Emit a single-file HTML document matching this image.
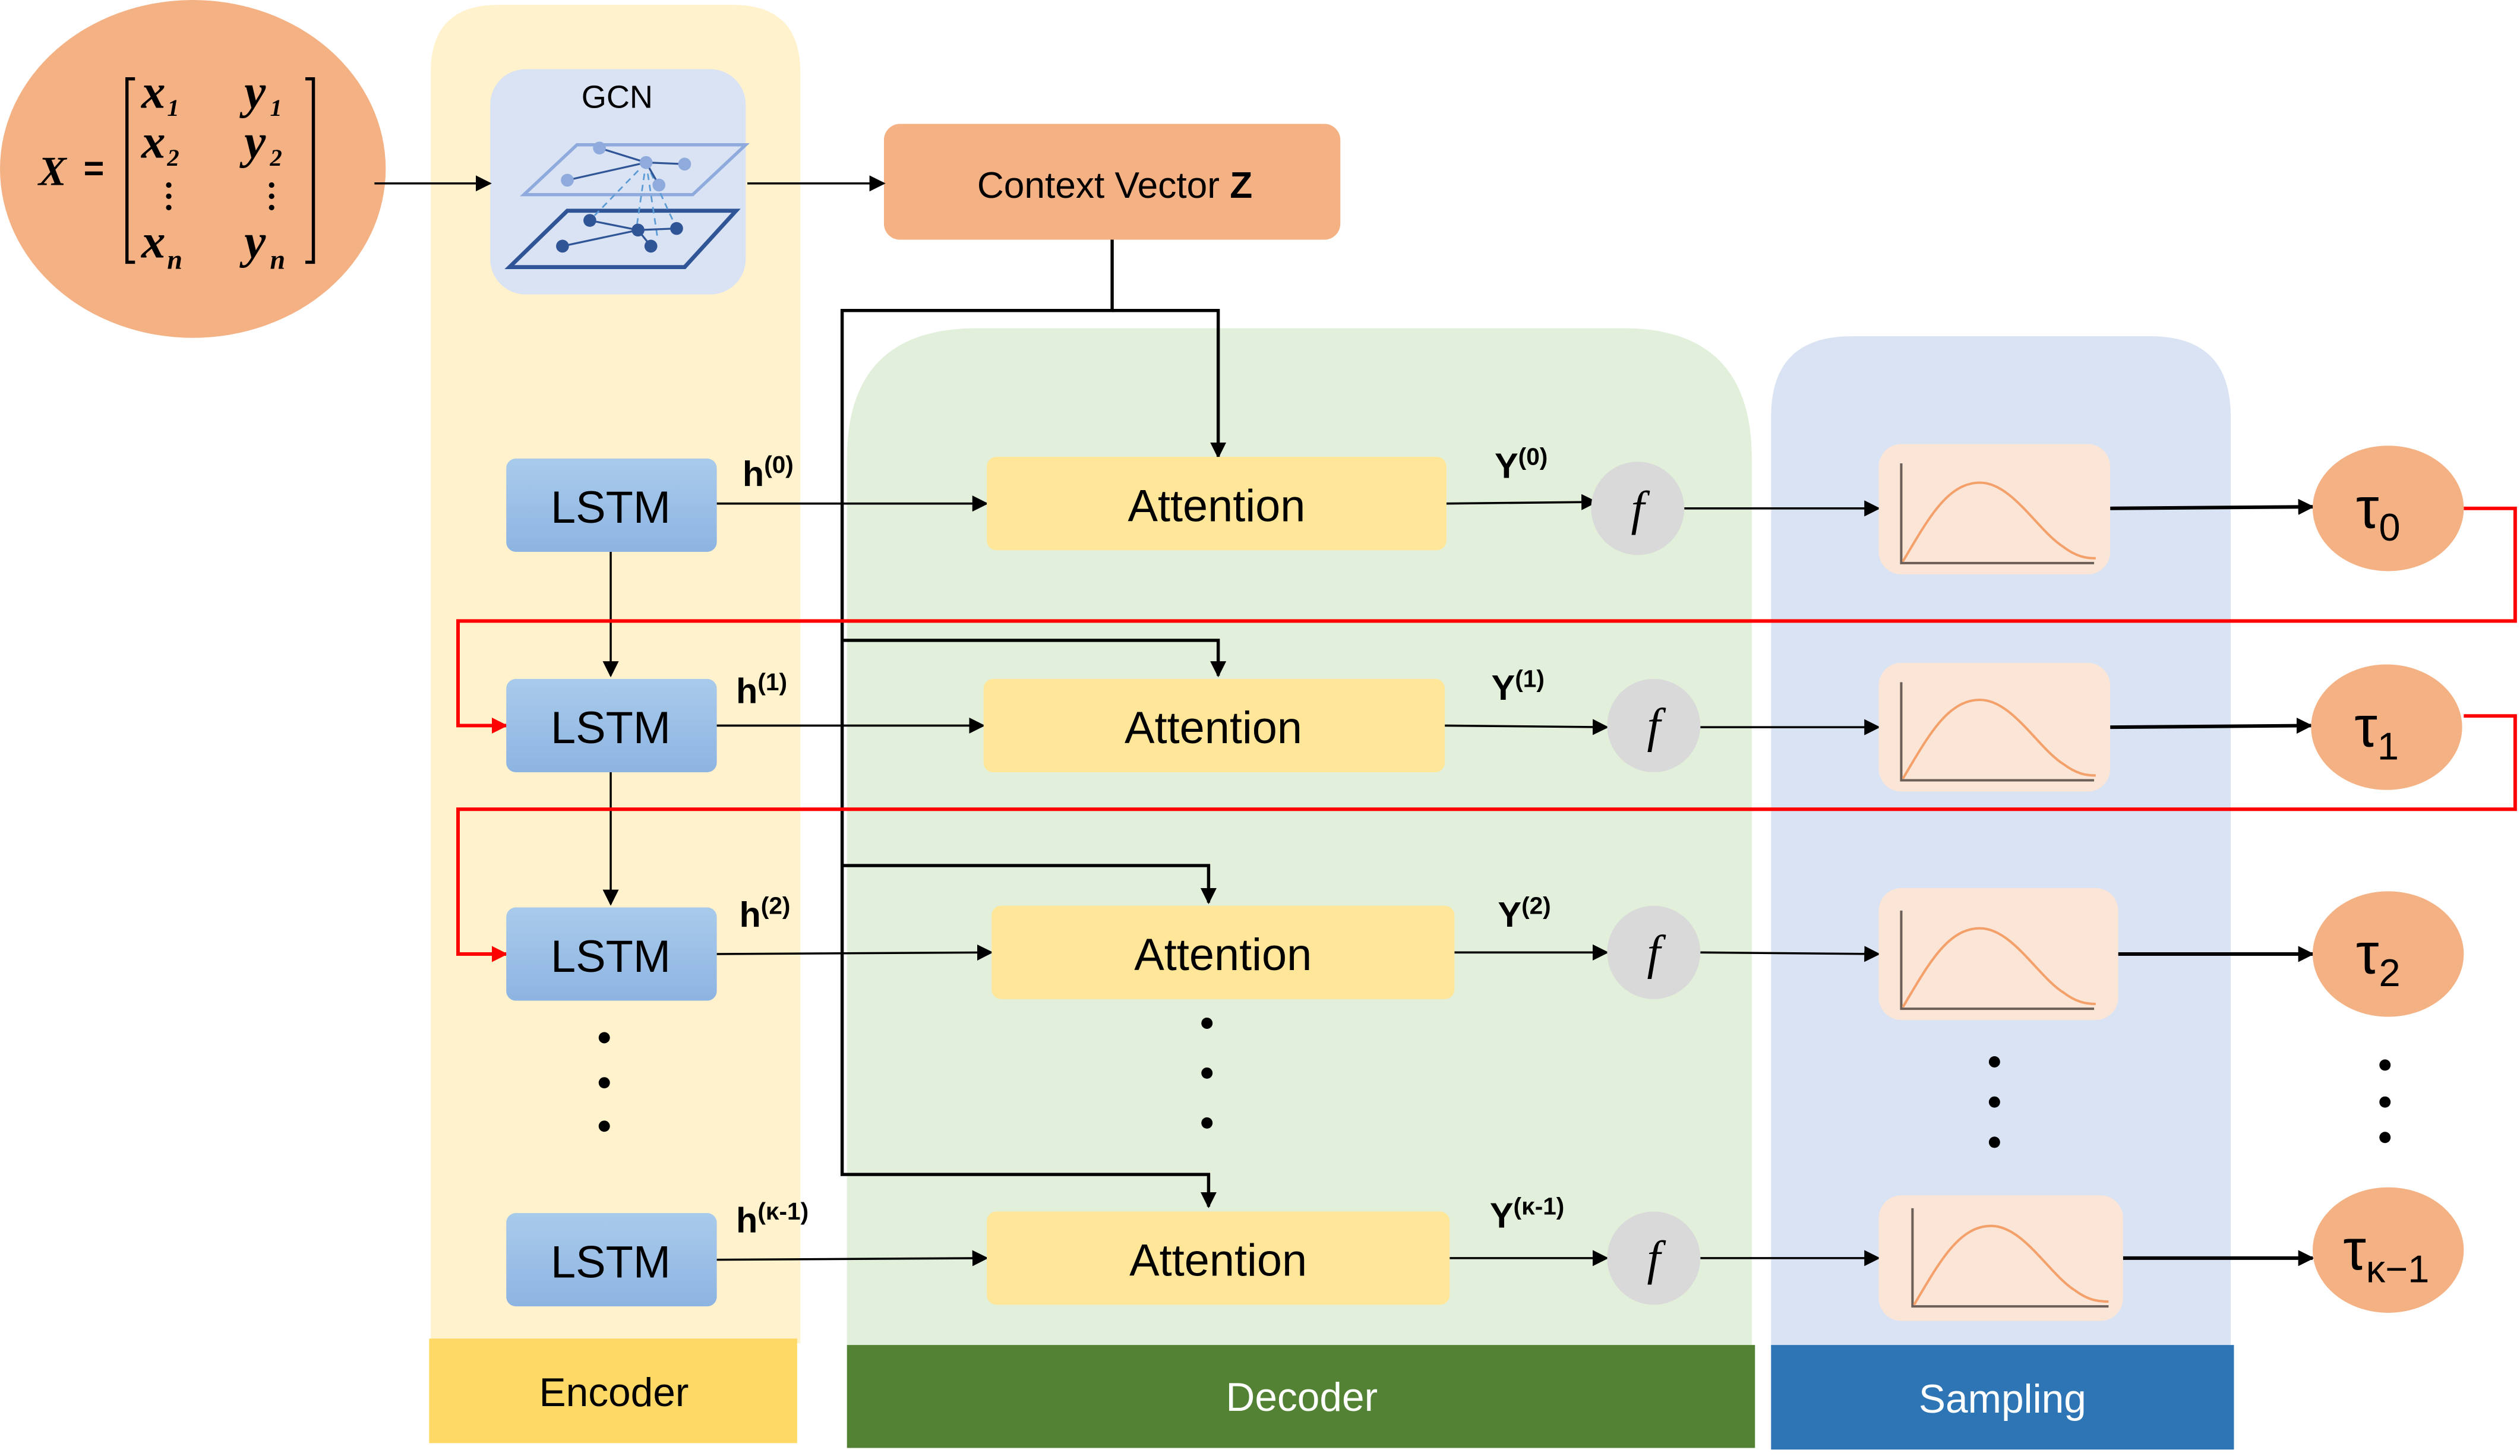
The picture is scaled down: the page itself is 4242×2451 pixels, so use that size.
<!DOCTYPE html>
<html><head><meta charset="utf-8"><style>html,body{margin:0;padding:0;background:#fff}svg{display:block}</style></head><body>
<svg width="4242" height="2451" viewBox="0 0 1568 905" preserveAspectRatio="none" xmlns="http://www.w3.org/2000/svg" font-family="Liberation Sans, DejaVu Sans, sans-serif">
<defs>
<marker id="a" markerWidth="10" markerHeight="10" refX="9" refY="5" orient="auto" markerUnits="userSpaceOnUse"><path d="M0,0 L10,5 L0,10 z" fill="#000"/></marker>
<marker id="r" markerWidth="10" markerHeight="10" refX="9" refY="5" orient="auto" markerUnits="userSpaceOnUse"><path d="M0,0 L10,5 L0,10 z" fill="#f00"/></marker>
<linearGradient id="lg" x1="0" y1="0" x2="0" y2="1"><stop offset="0" stop-color="#A9CBEB"/><stop offset="1" stop-color="#8DB4E2"/></linearGradient>
</defs>
<path d="M268,835 V45 Q268,3 310,3 H456 Q498,3 498,45 V835 Z" fill="#FFF2CC"/>
<rect x="267" y="832" width="229" height="65" fill="#FFD966"/>
<text x="382" y="874" font-size="25" text-anchor="middle">Encoder</text>
<path d="M527,840 V285 Q527,204 608,204 H1010 Q1090,204 1090,285 V840 Z" fill="#E2EFDA"/>
<rect x="527" y="836" width="565" height="64" fill="#548235"/>
<text x="810" y="877" font-size="25" text-anchor="middle" fill="#fff">Decoder</text>
<path d="M1102,840 V259 Q1102,209 1152,209 H1338 Q1388,209 1388,259 V840 Z" fill="#DAE3F3"/>
<rect x="1102" y="836" width="288" height="65" fill="#2E75B6"/>
<text x="1246" y="878" font-size="25" text-anchor="middle" fill="#fff">Sampling</text>
<ellipse cx="120" cy="105" rx="120" ry="105" fill="#F4B183"/>
<g font-family="Liberation Serif, serif" font-style="italic" font-weight="bold">
<text x="24" y="115" font-size="26">X</text>
<text x="88" y="67" font-size="30">x</text><text x="104" y="72" font-size="15">1</text>
<text x="152" y="67" font-size="30">y</text><text x="168" y="72" font-size="15">1</text>
<text x="88" y="98" font-size="30">x</text><text x="104" y="103" font-size="15">2</text>
<text x="152" y="98" font-size="30">y</text><text x="168" y="103" font-size="15">2</text>
<text x="88" y="160" font-size="30">x</text><text x="104" y="167" font-size="17">n</text>
<text x="152" y="160" font-size="30">y</text><text x="168" y="167" font-size="17">n</text>
</g>
<text x="52" y="112" font-size="22" font-weight="bold">=</text>
<path d="M84,49 H79 V163 H84 M190,49 H195 V163 H190" stroke="#000" stroke-width="2" fill="none"/>
<g fill="#000"><circle cx="105" cy="115" r="1.7"/><circle cx="105" cy="122" r="1.7"/><circle cx="105" cy="129" r="1.7"/><circle cx="169" cy="115" r="1.7"/><circle cx="169" cy="122" r="1.7"/><circle cx="169" cy="129" r="1.7"/></g>
<rect x="305" y="43" width="159" height="140" rx="22" fill="#DAE3F3"/>
<text x="384" y="67" font-size="20" text-anchor="middle">GCN</text>
<path d="M359,90 H464 L431,121 H326 Z" fill="none" stroke="#8FAADC" stroke-width="2"/>
<path d="M353,131 H458 L426,166 H317 Z" fill="none" stroke="#2F5597" stroke-width="2.5"/>
<g stroke="#5B9BD5" stroke-width="1" stroke-dasharray="4,3"><line x1="402" y1="101" x2="367" y2="137"/><line x1="402" y1="101" x2="396" y2="142"/><line x1="402" y1="101" x2="409" y2="147"/><line x1="402" y1="101" x2="421" y2="142"/></g>
<g stroke="#2F5597" stroke-width="1.2"><line x1="373" y1="92" x2="402" y2="101"/><line x1="402" y1="101" x2="426" y2="102"/><line x1="353" y1="112" x2="402" y2="101"/><line x1="402" y1="101" x2="410" y2="115"/>
<line x1="367" y1="137" x2="397" y2="143"/><line x1="397" y1="143" x2="421" y2="142"/><line x1="350" y1="153" x2="397" y2="143"/><line x1="397" y1="143" x2="405" y2="153"/></g>
<g fill="#8FAADC"><circle cx="373" cy="92" r="4"/><circle cx="402" cy="101" r="4"/><circle cx="426" cy="102" r="4"/><circle cx="353" cy="112" r="4"/><circle cx="410" cy="115" r="4"/></g>
<g fill="#2F5597"><circle cx="367" cy="137" r="4"/><circle cx="397" cy="143" r="4"/><circle cx="421" cy="142" r="4"/><circle cx="350" cy="153" r="4"/><circle cx="405" cy="153" r="4"/></g>
<rect x="550" y="77" width="284" height="72" rx="10" fill="#F4B183"/>
<text x="608" y="123" font-size="23">Context  Vector  <tspan font-weight="bold">Z</tspan></text>
<g stroke="#000" stroke-width="1.3" fill="none">
<line x1="233" y1="114" x2="305" y2="114" marker-end="url(#a)"/>
<line x1="465" y1="114" x2="550" y2="114" marker-end="url(#a)"/>
<polyline points="692,149 692,193 524,193 524,730 752,730 752,750" stroke-width="2" marker-end="url(#a)"/>
<polyline points="692,193 758,193 758,284" stroke-width="2" marker-end="url(#a)"/>
<polyline points="524,398 758,398 758,420" stroke-width="2" marker-end="url(#a)"/>
<polyline points="524,538 752,538 752,561" stroke-width="2" marker-end="url(#a)"/>
<line x1="380" y1="343" x2="380" y2="420" marker-end="url(#a)"/>
<line x1="380" y1="480" x2="380" y2="562" marker-end="url(#a)"/>
<line x1="446" y1="313" x2="614" y2="313" marker-end="url(#a)"/>
<line x1="446" y1="451" x2="612" y2="451" marker-end="url(#a)"/>
<line x1="446" y1="593" x2="617" y2="592" marker-end="url(#a)"/>
<line x1="446" y1="783" x2="614" y2="782" marker-end="url(#a)"/>
<line x1="900" y1="313" x2="993" y2="312" marker-end="url(#a)"/>
<line x1="899" y1="451" x2="1000" y2="452" marker-end="url(#a)"/>
<line x1="905" y1="592" x2="1000" y2="592" marker-end="url(#a)"/>
<line x1="902" y1="782" x2="1000" y2="782" marker-end="url(#a)"/>
<line x1="1048" y1="316" x2="1169" y2="316" marker-end="url(#a)"/>
<line x1="1058" y1="452" x2="1169" y2="452" marker-end="url(#a)"/>
<line x1="1058" y1="592" x2="1169" y2="593" marker-end="url(#a)"/>
<line x1="1058" y1="782" x2="1169" y2="782" marker-end="url(#a)"/>
<line x1="1313" y1="316" x2="1439" y2="315" stroke-width="2.2" marker-end="url(#a)"/>
<line x1="1313" y1="452" x2="1438" y2="451" stroke-width="2.2" marker-end="url(#a)"/>
<line x1="1318" y1="593" x2="1439" y2="593" stroke-width="2.2" marker-end="url(#a)"/>
<line x1="1321" y1="782" x2="1439" y2="782" stroke-width="2.2" marker-end="url(#a)"/>
</g>
<g stroke="#f00" stroke-width="2.2" fill="none">
<polyline points="1533,316 1565,316 1565,386 285,386 285,451 315,451" marker-end="url(#r)"/>
<polyline points="1533,445 1565,445 1565,503 285,503 285,593 315,593" marker-end="url(#r)"/>
</g>
<g font-size="28" text-anchor="middle">
<rect x="315" y="285" width="131" height="58" rx="6" fill="url(#lg)"/><text x="380" y="325">LSTM</text>
<rect x="315" y="422" width="131" height="58" rx="6" fill="url(#lg)"/><text x="380" y="462">LSTM</text>
<rect x="315" y="564" width="131" height="58" rx="6" fill="url(#lg)"/><text x="380" y="604">LSTM</text>
<rect x="315" y="754" width="131" height="58" rx="6" fill="url(#lg)"/><text x="380" y="794">LSTM</text>
<rect x="614" y="284" width="286" height="58" rx="6" fill="#FFE699"/><text x="757" y="324">Attention</text>
<rect x="612" y="422" width="287" height="58" rx="6" fill="#FFE699"/><text x="755" y="462">Attention</text>
<rect x="617" y="563" width="288" height="58" rx="6" fill="#FFE699"/><text x="761" y="603">Attention</text>
<rect x="614" y="753" width="288" height="58" rx="6" fill="#FFE699"/><text x="758" y="793">Attention</text>
</g>
<g font-size="22" font-weight="bold">
<text x="462" y="302">h<tspan font-size="15" dy="-8">(0)</tspan></text>
<text x="458" y="437">h<tspan font-size="15" dy="-8">(1)</tspan></text>
<text x="460" y="576">h<tspan font-size="15" dy="-8">(2)</tspan></text>
<text x="458" y="766">h<tspan font-size="15" dy="-8">(κ-1)</tspan></text>
<text x="930" y="297">Y<tspan font-size="15" dy="-8">(0)</tspan></text>
<text x="928" y="435">Y<tspan font-size="15" dy="-8">(1)</tspan></text>
<text x="932" y="576">Y<tspan font-size="15" dy="-8">(2)</tspan></text>
<text x="927" y="763">Y<tspan font-size="15" dy="-8">(κ-1)</tspan></text>
</g>
<g fill="#D9D9D9"><circle cx="1019" cy="316" r="29"/><circle cx="1029" cy="451" r="29"/><circle cx="1029" cy="592" r="29"/><circle cx="1029" cy="782" r="29"/></g>
<g font-family="Liberation Serif, serif" font-style="italic" font-size="30" text-anchor="middle">
<text x="1019" y="326">f</text><text x="1029" y="461">f</text><text x="1029" y="602">f</text><text x="1029" y="792">f</text></g>
<g>
<rect x="1169" y="276" width="144" height="81" rx="14" fill="#FBE5D6"/>
<rect x="1169" y="412" width="144" height="80" rx="14" fill="#FBE5D6"/>
<rect x="1169" y="552" width="149" height="82" rx="14" fill="#FBE5D6"/>
<rect x="1169" y="743" width="152" height="78" rx="14" fill="#FBE5D6"/>
</g>
<g fill="none" stroke-width="1.5">
<path d="M1183,288 V350 H1303" stroke="#6b5f58"/><path d="M1184,349 C1200,322 1212,300 1232,300 C1252,300 1268,330 1284,340 C1292,346 1298,347 1304,347" stroke="#F4A06A"/>
<path d="M1183,424 V485 H1303" stroke="#6b5f58"/><path d="M1184,484 C1200,457 1212,435 1232,435 C1252,435 1268,465 1284,475 C1292,481 1298,482 1304,482" stroke="#F4A06A"/>
<path d="M1183,566 V627 H1303" stroke="#6b5f58"/><path d="M1184,626 C1200,599 1212,577 1232,577 C1252,577 1268,607 1284,617 C1292,623 1298,624 1304,624" stroke="#F4A06A"/>
<path d="M1190,751 V812 H1312" stroke="#6b5f58"/><path d="M1191,811 C1207,784 1219,762 1239,762 C1259,762 1275,792 1291,802 C1299,808 1305,809 1312,809" stroke="#F4A06A"/>
</g>
<g fill="#F4B183"><ellipse cx="1486" cy="316" rx="47" ry="39"/><ellipse cx="1485" cy="452" rx="47" ry="39"/><ellipse cx="1486" cy="593" rx="47" ry="39"/><ellipse cx="1486" cy="777" rx="47" ry="39"/></g>
<g font-size="36"><text x="1466" y="328">τ<tspan font-size="24" dy="8">0</tspan></text>
<text x="1465" y="464">τ<tspan font-size="24" dy="8">1</tspan></text>
<text x="1466" y="605">τ<tspan font-size="24" dy="8">2</tspan></text>
<text x="1458" y="789">τ<tspan font-size="24" dy="8">κ−1</tspan></text></g>
<g fill="#000">
<circle cx="376" cy="645" r="3.5"/><circle cx="376" cy="673" r="3.5"/><circle cx="376" cy="700" r="3.5"/>
<circle cx="751" cy="636" r="3.5"/><circle cx="751" cy="667" r="3.5"/><circle cx="751" cy="698" r="3.5"/>
<circle cx="1241" cy="660" r="3.5"/><circle cx="1241" cy="685" r="3.5"/><circle cx="1241" cy="710" r="3.5"/>
<circle cx="1484" cy="662" r="3.5"/><circle cx="1484" cy="685" r="3.5"/><circle cx="1484" cy="707" r="3.5"/>
</g>
</svg>
</body></html>
